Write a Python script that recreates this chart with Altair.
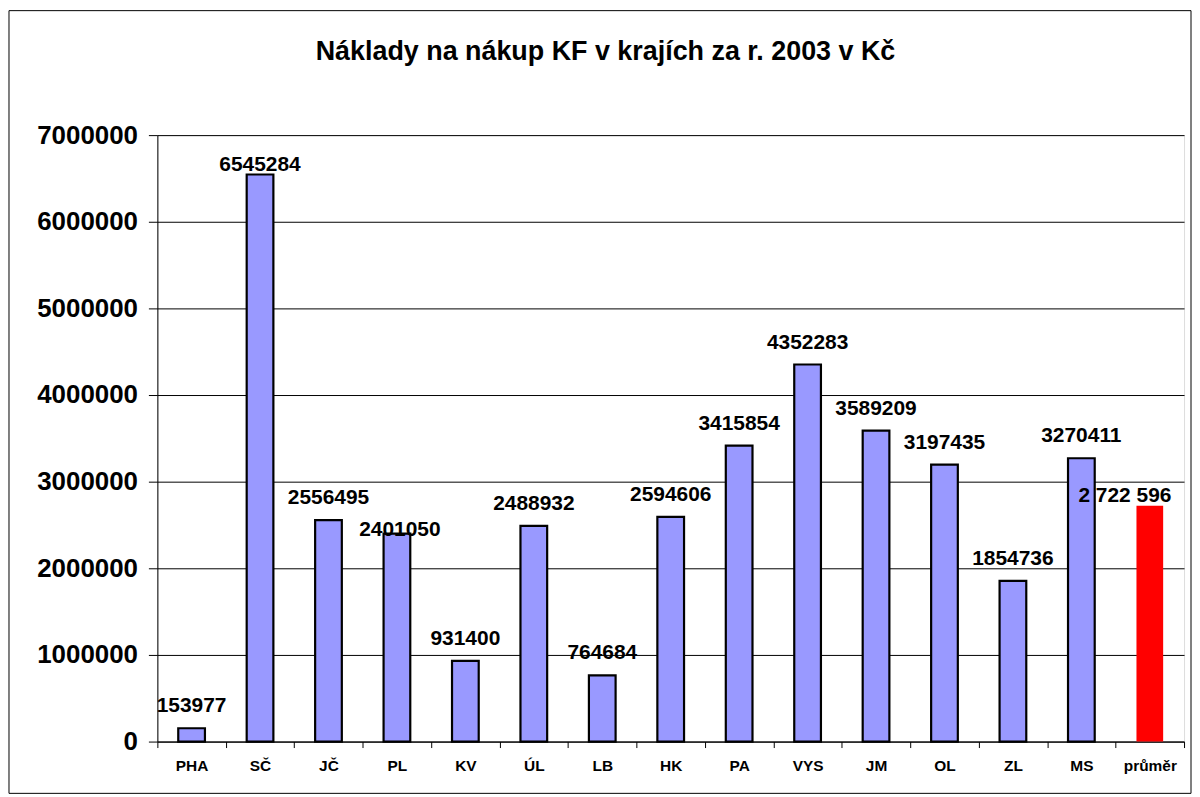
import altair as alt
import pandas as pd

# ---- data ----
regions = ["PHA", "SČ", "JČ", "PL", "KV", "ÚL", "LB", "HK", "PA", "VYS",
           "JM", "OL", "ZL", "MS", "průměr"]
costs = [153977, 6545284, 2556495, 2401050, 931400, 2488932, 764684, 2594606,
         3415854, 4352283, 3589209, 3197435, 1854736, 3270411, 2722596]
labels = ["153977", "6545284", "2556495", "2401050", "931400", "2488932",
          "764684", "2594606", "3415854", "4352283", "3589209", "3197435",
          "1854736", "3270411", "2 722 596"]
kinds = ["kraj"] * 14 + ["průměr"]
y_ticks = [0, 1000000, 2000000, 3000000, 4000000, 5000000, 6000000, 7000000]
title_text = "Náklady na nákup KF v krajích za r. 2003 v Kč"

FONT = "Liberation Sans"

df = pd.DataFrame({"region": regions, "cost": costs, "label": labels, "kind": kinds})

base = alt.Chart(df)

x_enc = alt.X(
    "region:N", sort=regions,
    scale=alt.Scale(paddingInner=0, paddingOuter=0),
    axis=alt.Axis(title=None, labelAngle=0, tickBand="extent", ticks=True,
                  tickSize=6, tickColor="black", domainColor="black",
                  labelFont=FONT, labelFontSize=15.5, labelFontWeight="bold",
                  labelColor="black", labelPadding=11, grid=False),
)
y_enc = alt.Y(
    "cost:Q",
    scale=alt.Scale(domain=[0, 7000000], nice=False),
    axis=alt.Axis(title=None, values=y_ticks, format="d", tickSize=9,
                  tickColor="black", domainColor="black", labelFont=FONT,
                  labelFontSize=26, labelFontWeight="bold", labelColor="black",
                  labelPadding=11, grid=True, gridColor="black", gridWidth=1),
)

bars = base.mark_bar(width=alt.RelativeBandSize(0.39), strokeWidth=2.2).encode(
    x=x_enc,
    y=y_enc,
    fill=alt.Fill("kind:N", scale=alt.Scale(domain=["kraj", "průměr"],
                                            range=["#9999FF", "#FF0000"]), legend=None),
    stroke=alt.Stroke("kind:N", scale=alt.Scale(domain=["kraj", "průměr"],
                                                range=["black", "transparent"]), legend=None),
)

def lbl(dy, dx=0):
    return base.mark_text(font=FONT, fontSize=21, fontWeight="bold", color="black",
                          baseline="alphabetic", dy=dy, dx=dx).encode(
        x=alt.X("region:N", sort=regions),
        y=alt.Y("cost:Q"),
        text="label:N",
    )

labels_main = lbl(-16).transform_filter(
    "datum.region != 'SČ' && datum.region != 'PL' && datum.region != 'průměr'")
labels_sc = lbl(-4).transform_filter("datum.region == 'SČ'")
labels_pl = lbl(2, 3).transform_filter("datum.region == 'PL'")
labels_avg = lbl(-4, -25).transform_filter("datum.region == 'průměr'")

deco = alt.Chart(pd.DataFrame({"t": [title_text]}))

frame = deco.mark_rect(fill="transparent", stroke="black", strokeWidth=1).encode(
    x=alt.value(-149), x2=alt.value(1038), y=alt.value(-125), y2=alt.value(661))

title = deco.mark_text(font=FONT, fontSize=27, fontWeight="bold", color="black",
                       align="center", baseline="middle").encode(
    x=alt.value(450), y=alt.value(-83), text="t:N")

chart = alt.layer(frame, title, bars, labels_main, labels_sc, labels_pl, labels_avg).properties(
    width=1031, height=609, padding=0,
).configure_view(stroke="#808080", strokeWidth=1.5).configure(background="white")

chart.save("out.html", embed_options={"renderer": "svg", "actions": False})
